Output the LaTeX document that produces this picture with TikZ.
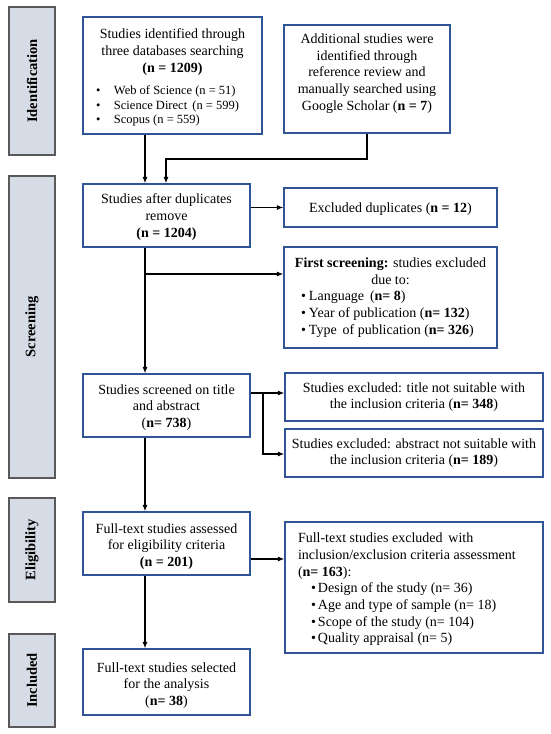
\documentclass[tikz,border=0pt]{standalone}
\usepackage{fontspec}
\setmainfont{Liberation Serif}
\usetikzlibrary{arrows.meta}
\definecolor{boxblue}{HTML}{2F5597}
\definecolor{sidefill}{HTML}{D6DCE5}
\definecolor{sidegray}{HTML}{595959}
\newcommand\fsmain{\fontsize{14}{16.7}\selectfont}
\newcommand\fssmall{\fontsize{12.5}{14.2}\selectfont}
\newcommand\cbx[3]{\parbox{#1}{\vspace*{#2}\centering #3\par}}
\tikzset{
  box/.style={draw=boxblue, line width=1.1pt, fill=white, inner sep=0pt, align=center, font=\fsmain},
  side/.style={draw=sidegray, fill=sidefill, line width=1.6pt, rotate=90, inner sep=0pt, font=\fontsize{14.5}{16}\selectfont\bfseries},
  arr/.style={-{Latex[length=6.5pt,width=5pt]}, line width=1.4pt, black}
}
\begin{document}
\begin{tikzpicture}[x=1pt,y=-1pt]
\useasboundingbox (0,0) rectangle (550,734);
% side bars
\node[side, minimum width=148pt, minimum height=46pt] (sid) at (32,81) {Identification};
\node[side, minimum width=302pt, minimum height=46pt] (sscr) at (32,327) {Screening};
\node[side, minimum width=104pt, minimum height=46pt] (self) at (32,550) {Eligibility};
\node[side, minimum width=93pt, minimum height=46pt] (sinc) at (32,680.5) {Included};
% boxes
\node[box, minimum width=179pt, minimum height=117pt] (id1) at (172.5,75.5) {\parbox{179pt}{%
  \vspace*{4pt}
  {\centering Studies identified through\\three databases searching\\\textbf{(n = 1209)}\par}
  \vspace{8.5pt}
  {\raggedright\fssmall
  \hspace*{13pt}\makebox[18pt][l]{\textbullet}Web of Science (n = 51)\par
  \hspace*{13pt}\makebox[18pt][l]{\textbullet}Science Direct\, (n = 599)\par
  \hspace*{13pt}\makebox[18pt][l]{\textbullet}Scopus (n = 559)\par}}};
\node[box, minimum width=166pt, minimum height=108pt] (add) at (367,79) {\parbox{166pt}{\centering Additional studies were\\identified through\\reference review and\\manually searched using\\Google Scholar (\textbf{n = 7})\par\vspace{11pt}}};
\node[box, minimum width=167pt, minimum height=63pt] (dup) at (166.5,215.5) {\cbx{167pt}{3pt}{Studies after duplicates\\remove\\\textbf{(n = 1204)}}};
\node[box, minimum width=213pt, minimum height=39pt] (exdup) at (390.5,207.5) {\cbx{213pt}{3pt}{Excluded duplicates (\textbf{n = 12})}};
\node[box, minimum width=213pt, minimum height=101pt] (first) at (390.5,297.5) {\parbox{213pt}{%
  {\centering\textbf{First screening:} studies excluded\\due to:\par}
  {\raggedright
  \hspace*{17pt}\makebox[8pt][l]{\textbullet}Language\, (\textbf{n= 8})\par
  \hspace*{17pt}\makebox[8pt][l]{\textbullet}Year of publication (\textbf{n= 132})\par
  \hspace*{17pt}\makebox[8pt][l]{\textbullet}Type\, of publication (\textbf{n= 326})\par}}};
\node[box, minimum width=167pt, minimum height=63pt] (scr) at (166.5,405.5) {\cbx{167pt}{4pt}{Studies screened on title\\and abstract\\(\textbf{n= 738})}};
\node[box, minimum width=258pt, minimum height=48pt] (extitle) at (414,397) {Studies excluded: title not suitable with\\the inclusion criteria (\textbf{n= 348})};
\node[box, minimum width=258pt, minimum height=48pt] (exabs) at (414,453) {Studies excluded: abstract not suitable with\\the inclusion criteria (\textbf{n= 189})};
\node[box, minimum width=167pt, minimum height=63pt] (full) at (166.5,543.5) {\cbx{167pt}{6pt}{Full-text studies assessed\\for eligibility criteria\\\textbf{(n = 201)}}};
\node[box, minimum width=258pt, minimum height=131pt] (exfull) at (414,587.5) {\parbox{258pt}{\vspace*{4pt}\raggedright
  \hspace*{13pt}Full-text studies excluded\, with\par
  \hspace*{13pt}inclusion/exclusion criteria assessment\par
  \hspace*{13pt}(\textbf{n= 163}):\par
  \hspace*{26pt}\makebox[7pt][l]{\textbullet}Design of the study (n= 36)\par
  \hspace*{26pt}\makebox[7pt][l]{\textbullet}Age and type of sample (n= 18)\par
  \hspace*{26pt}\makebox[7pt][l]{\textbullet}Scope of the study (n= 104)\par
  \hspace*{26pt}\makebox[7pt][l]{\textbullet}Quality appraisal (n= 5)\par}};
\node[box, minimum width=167pt, minimum height=66pt] (incl) at (166.5,682) {\cbx{167pt}{7pt}{Full-text studies selected\\for the analysis\\(\textbf{n= 38})}};
% helper coordinates
\coordinate (colx) at (145,0);
\coordinate (colb) at (166,0);
\coordinate (j1) at (0,159);
\coordinate (b1) at (145,274);
\coordinate (v) at (263,0);
\coordinate (t1) at (0,393);
\coordinate (t2) at (0,454);
\coordinate (t3) at (0,559);
% connectors
\draw[arr] (id1.south -| colx) -- (dup.north -| colx);
\draw[arr] (add.south) -- (add.south |- j1) -| (dup.north -| colb);
\draw[arr] (dup.east |- exdup.west) -- (exdup.west);
\draw[arr] (dup.south -| colx) -- (scr.north -| colx);
\draw[arr] (b1) -- (b1 -| first.west);
\draw[arr] (scr.east |- t1) -- (t1 -| extitle.west);
\draw[arr] (t1 -| v) -- (t2 -| v) -- (t2 -| exabs.west);
\draw[arr] (scr.south -| colx) -- (full.north -| colx);
\draw[arr] (full.east |- t3) -- (t3 -| exfull.west);
\draw[arr] (full.south -| colx) -- (incl.north -| colx);
\end{tikzpicture}
\end{document}
